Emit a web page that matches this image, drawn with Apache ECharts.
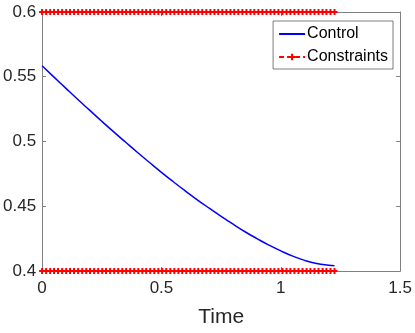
<!DOCTYPE html>
<html><head><meta charset="utf-8">
<script src="https://cdn.jsdelivr.net/npm/echarts@6/dist/echarts.min.js"></script>
<style>html,body{margin:0;padding:0;background:#fff}#c{width:415px;height:333px}</style>
</head><body><div id="c"></div>
<script>
// Control curve
const controlTime = [0,0.05,0.1,0.15,0.2,0.25,0.3,0.35,0.4,0.45,0.5,0.55,0.6,0.65,0.7,0.75,0.8,0.85,0.9,0.95,1.0,1.05,1.1,1.15,1.2,1.225];
const controlValues = [0.5585,0.5497,0.5410,0.5324,0.5240,0.5156,0.5074,0.4994,0.4915,0.4838,0.4762,0.4689,0.4618,0.4550,0.4485,0.4422,0.4362,0.4303,0.4250,0.4200,0.4155,0.4115,0.4082,0.4058,0.4044,0.4040];
// Constraint sample times
const constraintTime = [0,0.017,0.034,0.050,0.067,0.084,0.101,0.117,0.134,0.151,0.168,0.185,0.201,0.218,0.235,0.252,0.268,0.285,0.302,0.319,0.336,0.352,0.369,0.386,0.403,0.420,0.436,0.453,0.470,0.487,0.503,0.520,0.537,0.554,0.571,0.587,0.604,0.621,0.638,0.654,0.671,0.688,0.705,0.722,0.738,0.755,0.772,0.789,0.805,0.822,0.839,0.856,0.873,0.889,0.906,0.923,0.940,0.957,0.973,0.990,1.007,1.024,1.040,1.057,1.074,1.091,1.108,1.124,1.141,1.158,1.175,1.191,1.208,1.225];
const lowerBound = 0.4;
const upperBound = 0.6;
const xTicks = [0, 0.5, 1, 1.5];
const yTicks = [0.4, 0.45, 0.5, 0.55, 0.6];
const seriesNames = ['Control', 'Constraints'];

const chart = echarts.init(document.getElementById('c'));
const font = 'Liberation Sans, Arial, Helvetica, sans-serif';
const axisColor = '#808080';
const plus = 'path://M2,0h2v2h2v2h-2v2h-2v-2h-2v-2h2z';
const fmt = v => String(v);

const consStyle = {
  type: 'line', name: seriesNames[1], symbol: plus, symbolSize: 6, showSymbol: true,
  itemStyle: { color: '#ff0000' },
  lineStyle: { color: '#ff0000', width: 1.5, type: [5, 3] },
  animation: false, z: 3
};

chart.setOption({
  animation: false,
  grid: { left: 42, right: 13, top: 12, bottom: 61 },
  legend: {
    right: 22, top: 21, orient: 'vertical',
    itemWidth: 26, itemHeight: 8, itemGap: 7,
    padding: [5, 5, 4, 5],
    borderColor: '#262626', borderWidth: 0.6, backgroundColor: '#fff',
    textStyle: { fontFamily: font, fontSize: 16, color: '#000', padding: [0, 0, 0, -3] },
    data: [{ name: seriesNames[0], itemStyle: { opacity: 0 } }, { name: seriesNames[1] }]
  },
  xAxis: [{
    type: 'value', min: 0, max: 1.5, interval: 0.5,
    name: 'Time', nameLocation: 'middle', nameGap: 36,
    nameTextStyle: { fontFamily: font, fontSize: 21, color: '#262626' },
    axisLine: { onZero: false, lineStyle: { color: axisColor, width: 1 } },
    axisTick: { inside: true, length: 4, lineStyle: { color: axisColor } },
    axisLabel: { fontFamily: font, fontSize: 17, color: '#262626', margin: 9,
      formatter: v => xTicks.includes(v) ? fmt(v) : '' },
    splitLine: { show: false }
  }, {
    type: 'value', position: 'top', min: 0, max: 1.5, interval: 0.5,
    axisLine: { onZero: false, lineStyle: { color: axisColor, width: 1 } },
    axisTick: { inside: true, length: 4, lineStyle: { color: axisColor } },
    axisLabel: { show: false }, splitLine: { show: false }
  }],
  yAxis: [{
    type: 'value', min: 0.4, max: 0.6, interval: 0.05,
    axisLine: { onZero: false, lineStyle: { color: axisColor, width: 1 } },
    axisTick: { inside: true, length: 4, lineStyle: { color: axisColor } },
    axisLabel: { fontFamily: font, fontSize: 17, color: '#262626', margin: 6,
      formatter: v => { const t = yTicks.find(y => Math.abs(y - v) < 1e-9); return t !== undefined ? fmt(t) : ''; } },
    splitLine: { show: false }
  }, {
    type: 'value', position: 'right', min: 0.4, max: 0.6, interval: 0.05,
    axisLine: { onZero: false, lineStyle: { color: axisColor, width: 1 } },
    axisTick: { inside: true, length: 4, lineStyle: { color: axisColor } },
    axisLabel: { show: false }, splitLine: { show: false }
  }],
  series: [
    {
      type: 'line', name: seriesNames[0], smooth: true, showSymbol: false, symbol: 'none',
      data: controlTime.map((t, i) => [t, controlValues[i]]),
      itemStyle: { color: '#0000ff' },
      lineStyle: { color: '#0000ff', width: 1.5 }, z: 2
    },
    Object.assign({}, consStyle, { data: constraintTime.map(t => [t, lowerBound]) }),
    Object.assign({}, consStyle, { data: constraintTime.map(t => [t, upperBound]) })
  ]
});
</script></body></html>
